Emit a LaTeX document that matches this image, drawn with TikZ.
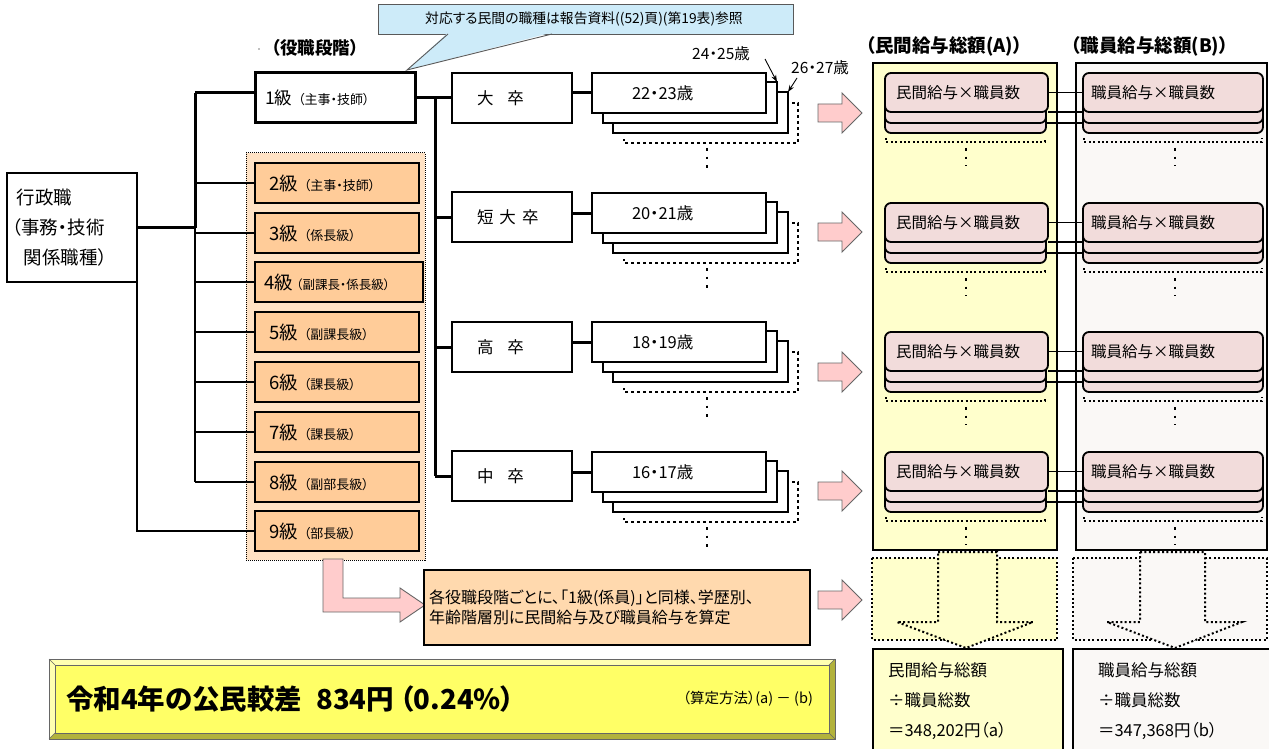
\documentclass[tikz,border=0pt]{standalone}
\usepackage{fontspec}
\setmainfont{Noto Sans CJK JP}[RawFeature=+palt]
\usetikzlibrary{arrows.meta,calc}
\definecolor{cBlue}{HTML}{CDEBF9}
\definecolor{cOrg}{HTML}{FFCC99}
\definecolor{cOrgL}{HTML}{FFE2C4}
\definecolor{cOrgT}{HTML}{FFD9AE}
\definecolor{cPinkA}{HTML}{FFCCCC}
\definecolor{cPinkB}{HTML}{F2DCDB}
\definecolor{cYel}{HTML}{FFFFCC}
\definecolor{cGry}{HTML}{FAF8F6}
\definecolor{cBan}{HTML}{FFFF66}
\definecolor{cBanD}{HTML}{B2B23C}
\definecolor{cBanL}{HTML}{FFFFB0}
\newcommand\pinkarr[2]{\filldraw[pinkblk] (#1,#2) ++(0,-9) -- ++(24,0) -- ++(0,-11) -- ++(20,20) -- ++(-20,20) -- ++(0,-11) -- ++(-24,0) -- cycle;}
\newcommand\smalltxt{\fontsize{13}{13}\selectfont}
\begin{document}
\begin{tikzpicture}[x=1pt,y=-1pt,
  every node/.style={inner sep=0pt,outer sep=0pt},
  bx/.style={draw,line width=2.6pt,fill=white,anchor=north west},
  grd/.style={draw,line width=1.6pt,fill=cOrg,anchor=north west,align=left,minimum height=40pt,font=\fontsize{18.5}{20}\selectfont},
  edu/.style={bx,minimum width=120pt,minimum height=50pt,text width=70pt,inner xsep=25pt,align=left,font=\fontsize{16.5}{18}\selectfont},
  agebox/.style={bx,line width=2.6pt,minimum width=174pt,minimum height=40pt},
  pinkbox/.style={draw,line width=1.8pt,fill=cPinkB,rounded corners=6pt,anchor=north west,minimum height=40pt},
  col/.style={draw,line width=2pt,anchor=north west},
  lwA/.style={line width=3pt},
  lwB/.style={line width=2pt},
  lwC/.style={line width=1.1pt},
  dotstk/.style={line width=2.6pt,dash pattern=on 2.6pt off 3.4pt},
  dotv/.style={line width=2.6pt,dash pattern=on 2.6pt off 6pt},
  dotthin/.style={line width=2pt,dash pattern=on 2pt off 2.4pt},
  pinkblk/.style={fill=cPinkA,draw=black!60,line width=0.9pt},
  lblarrow/.style={-{Stealth[length=7pt,width=5pt]},line width=0.9pt},
  hdr/.style={font=\bfseries\fontsize{18.5}{18.5}\selectfont}
]
\useasboundingbox (0,0) rectangle (1269,749);

% ---- callout
\node[draw=black!65,line width=0.9pt,fill=cBlue,anchor=north west,minimum width=415pt,minimum height=30pt] (callout) at (378,4) {};
\fill[cBlue] (448,32.5) -- (407,70) -- (552,32.5) -- cycle;
\draw[black!65,line width=0.9pt] (448,34) -- (407,70) -- (552,34);
\node[font=\fontsize{13.8}{14}\selectfont] (callt) at (584,19) {対応する民間の職種は報告資料((52)頁)(第19表)参照};

% ---- header
\node[font=\bfseries\fontsize{17.5}{17.5}\selectfont] (hdr0) at (315,48) {（役職段階）};
\fill[black!50] (259,49) circle (0.9);

% ---- 行政職
\node[bx,line width=2.2pt,minimum width=130pt,minimum height=109pt,text width=120pt,inner xsep=5pt,align=left,font=\fontsize{18.5}{30}\selectfont] (gyo) at (7,173) {\hspace*{5pt}行政職\\（事務・技術\\\hspace*{12pt}関係職種）};

% ---- container
\node[draw,line width=1pt,dash pattern=on 1pt off 1pt,fill=cOrgL,anchor=north west,minimum width=179pt,minimum height=407pt] (cont) at (246,153) {};

% ---- pink L arrow
\filldraw[pinkblk] (323,559) -- (323,612) -- (400,612) -- (400,622) -- (425,605) -- (400,588) -- (400,598) -- (343,598) -- (343,559) -- cycle;

% ---- grade boxes
\node[bx,line width=3pt,minimum width=160pt,minimum height=50pt,text width=140pt,inner xsep=10pt,align=left,font=\fontsize{17.5}{17.5}\selectfont] (g1) at (255,73) {1級 {\smalltxt （主事・技師）}};
\node[grd,minimum width=164pt,text width=136pt,inner xsep=14pt] (g2) at (255,163) {2級 {\smalltxt （主事・技師）}};
\node[grd,minimum width=164pt,text width=136pt,inner xsep=14pt] (g3) at (255,213) {3級 {\smalltxt （係長級）}};
\node[grd,minimum width=168pt,text width=158pt,inner xsep=5pt] (g4) at (255,262) {\hspace*{4pt}4級\hspace{3.5pt}{\fontsize{12.5}{12.5}\selectfont （副課長・係長級）}};
\node[grd,minimum width=164pt,text width=136pt,inner xsep=14pt] (g5) at (255,312) {5級 {\smalltxt （副課長級）}};
\node[grd,minimum width=164pt,text width=136pt,inner xsep=14pt] (g6) at (255,362) {6級 {\smalltxt （課長級）}};
\node[grd,minimum width=164pt,text width=136pt,inner xsep=14pt] (g7) at (255,412) {7級 {\smalltxt （課長級）}};
\node[grd,minimum width=164pt,text width=136pt,inner xsep=14pt] (g8) at (255,462) {8級 {\smalltxt （副部長級）}};
\node[grd,minimum width=164pt,text width=136pt,inner xsep=14pt] (g9) at (255,511) {9級 {\smalltxt （部長級）}};

% ---- left tree
\coordinate (tA) at (195,93);
\draw[lwA] (tA) -- (tA -| g1.west);
\draw[lwA] (gyo.east) -- (gyo.east -| tA);
\draw[lwA] (tA) -- (tA |- gyo.east);
\draw[lwB] (tA |- gyo.east) -- (tA |- g8.west);
\foreach \i in {2,...,8} \draw[lwC] (tA |- g\i.west) -- (g\i.west);
\draw[lwC] (gyo.south east) -- (gyo.south east |- g9.west) -- (g9.west);

% ---- education boxes
\node[edu] (e1) at (452,73) {大\hspace{14pt}卒};
\node[edu] (e2) at (452,192) {短\hspace{6pt}大\hspace{6pt}卒};
\node[edu] (e3) at (452,322) {高\hspace{14pt}卒};
\node[edu] (e4) at (452,451) {中\hspace{14pt}卒};
\draw[lwA] (g1.east) -- ++(20,0) coordinate (tB);
\draw[lwA] (tB) -- (tB |- e4.west);
\foreach \i in {1,...,4} \draw[lwA] (tB |- e\i.west) -- (e\i.west);

% ---- age stacks
\foreach \r/\T/\lab in {1/73/22・23歳,2/193/20・21歳,3/322/18・19歳,4/452/16・17歳}{
  \draw[dotstk] (792,{\T+30}) -- (798,{\T+30}) -- (798,{\T+70}) -- (624,{\T+70}) -- (624,{\T+66});
  \node[agebox,minimum width=175pt,minimum height=41pt] (a\r3) at (613,{\T+19}) {};
  \node[agebox,minimum height=41pt] (a\r2) at (603,{\T+9}) {};
  \node[agebox,text width=94pt,inner xsep=40pt,align=left,font=\fontsize{16.5}{16.5}\selectfont] (a\r1) at (592,\T) {\lab};
  \draw[lwA] (e\r.east |- a\r1.west) -- (a\r1.west);
  \draw[dotv] (707,{\T+75}) -- (707,{\T+95});
}
\node[font=\fontsize{15.5}{15.5}\selectfont] (l24) at (721,54) {24・25歳};
\node[font=\fontsize{15.5}{15.5}\selectfont] (l26) at (820,68) {26・27歳};
\coordinate (s24) at (765,59);
\coordinate (s26) at (797,78);
\draw[lblarrow] (s24) -- (a12.north east);
\draw[lblarrow] (s26) -- (a13.north east);

% ---- pink block arrows
\pinkarr{818}{113}
\pinkarr{818}{232}
\pinkarr{818}{372}
\pinkarr{818}{491}
\pinkarr{818}{600}

% ---- right columns
\node[col,fill=cYel,minimum width=184pt,minimum height=487pt] (colA) at (873,63) {};
\node[col,fill=cGry,minimum width=191pt,minimum height=487pt] (colB) at (1076,63) {};
\node[hdr] (hA) at (944,46) {（民間給与総額(A)）};
\node[hdr] (hB) at (1150,46) {（職員給与総額(B)）};

\foreach \r/\R in {1/73,2/203,3/332,4/452}{
  \node[pinkbox,minimum width=161pt] (pA\r3) at (885,{\R+20}) {};
  \node[pinkbox,minimum width=161pt] (pA\r2) at (885,{\R+10}) {};
  \node[pinkbox,minimum width=161pt,minimum height=39pt,text width=141pt,inner xsep=11pt,align=left,font=\fontsize{15.5}{15.5}\selectfont] (pA\r1) at (885,\R) {民間給与×職員数};
  \node[pinkbox,minimum width=180pt] (pB\r3) at (1083,{\R+20}) {};
  \node[pinkbox,minimum width=180pt] (pB\r2) at (1083,{\R+10}) {};
  \node[pinkbox,minimum width=180pt,minimum height=39pt,text width=164pt,inner xsep=8pt,align=left,font=\fontsize{15.5}{15.5}\selectfont] (pB\r1) at (1083,\R) {職員給与×職員数};
  \draw[dotthin] (886,{\R+65}) -- (886,{\R+69}) -- (1045,{\R+69}) -- (1045,{\R+65});
  \draw[dotthin] (1084,{\R+65}) -- (1084,{\R+69}) -- (1262,{\R+69}) -- (1262,{\R+65});
  \draw[lwC] (pA\r1.east) -- (pA\r1.east -| pB\r1.west);
  \draw[lwC] (pA\r1.south east) -- (pA\r1.south east -| pB\r1.west);
  \draw[lwC] (pA\r2.south east) -- (pA\r2.south east -| pB\r1.west);
  \draw[dotv] (966,{\R+75}) -- (966,{\R+93});
  \draw[dotv] (1175,{\R+75}) -- (1175,{\R+93});
}

% ---- dotted down arrows
\fill[cYel] (872,558) rectangle (1057,640);
\draw[dotthin] (872,558) rectangle (1057,640);
\filldraw[fill=cYel,dotthin] (938,552) -- (997,552) -- (997,622) -- (1033,622) -- (966,648) -- (897,622) -- (938,622) -- cycle;
\fill[cGry] (1073,558) rectangle (1267,640);
\draw[dotthin] (1073,558) rectangle (1267,640);
\filldraw[fill=cGry,dotthin] (1140,552) -- (1205,552) -- (1205,622) -- (1242,622) -- (1175,648) -- (1107,622) -- (1140,622) -- cycle;

% ---- result boxes
\node[col,fill=cYel,minimum width=184pt,minimum height=104pt,text width=160pt,inner xsep=15pt,align=left,font=\fontsize{16.5}{30}\selectfont] (resA) at (873,649) {民間給与総額\\÷職員総数\\＝348,202円（a）};
\node[col,fill=cGry,minimum width=194pt,minimum height=104pt,text width=160pt,inner xsep=25pt,align=left,font=\fontsize{16.5}{30}\selectfont] (resB) at (1073,649) {職員給与総額\\÷職員総数\\＝347,368円（b）};

% ---- explanation box
\node[draw,line width=1.3pt,fill=cOrgT,anchor=north west,minimum width=386pt,minimum height=75pt,text width=376pt,inner xsep=5pt,align=left,font=\fontsize{16}{20}\selectfont] (calc) at (424,570) {各役職段階ごとに、「1級(係員)」と同様、学歴別、\\年齢階層別に民間給与及び職員給与を算定};

% ---- banner
\fill[cBanD] (49,659) rectangle (835,739);
\fill[cBanL] (49,659) -- (835,659) -- (829,665) -- (55,665) -- (55,733) -- (49,739) -- cycle;
\node[fill=cBan,anchor=north west,minimum width=774pt,minimum height=68pt] (ban) at (55,665) {};
\draw[black!60,line width=0.8pt] (49,659) rectangle (835,739);
\draw[black!60,line width=0.6pt] (49,659) -- (ban.north west) (835,659) -- (ban.north east) (49,739) -- (ban.south west) (835,739) -- (ban.south east);
\draw[black!60,line width=0.6pt] (ban.north west) rectangle (ban.south east);
\node[anchor=west,font=\bfseries\fontsize{27.5}{27.5}\selectfont] (banT) at (66,699) {令和4年の公民較差\hspace{14pt}834円\hspace{6pt}（0.24\%）};
\node[anchor=east,font=\fontsize{14.5}{14.5}\selectfont] (banM) at (813,699) {（算定方法）(a) － (b)};
\end{tikzpicture}
\end{document}
